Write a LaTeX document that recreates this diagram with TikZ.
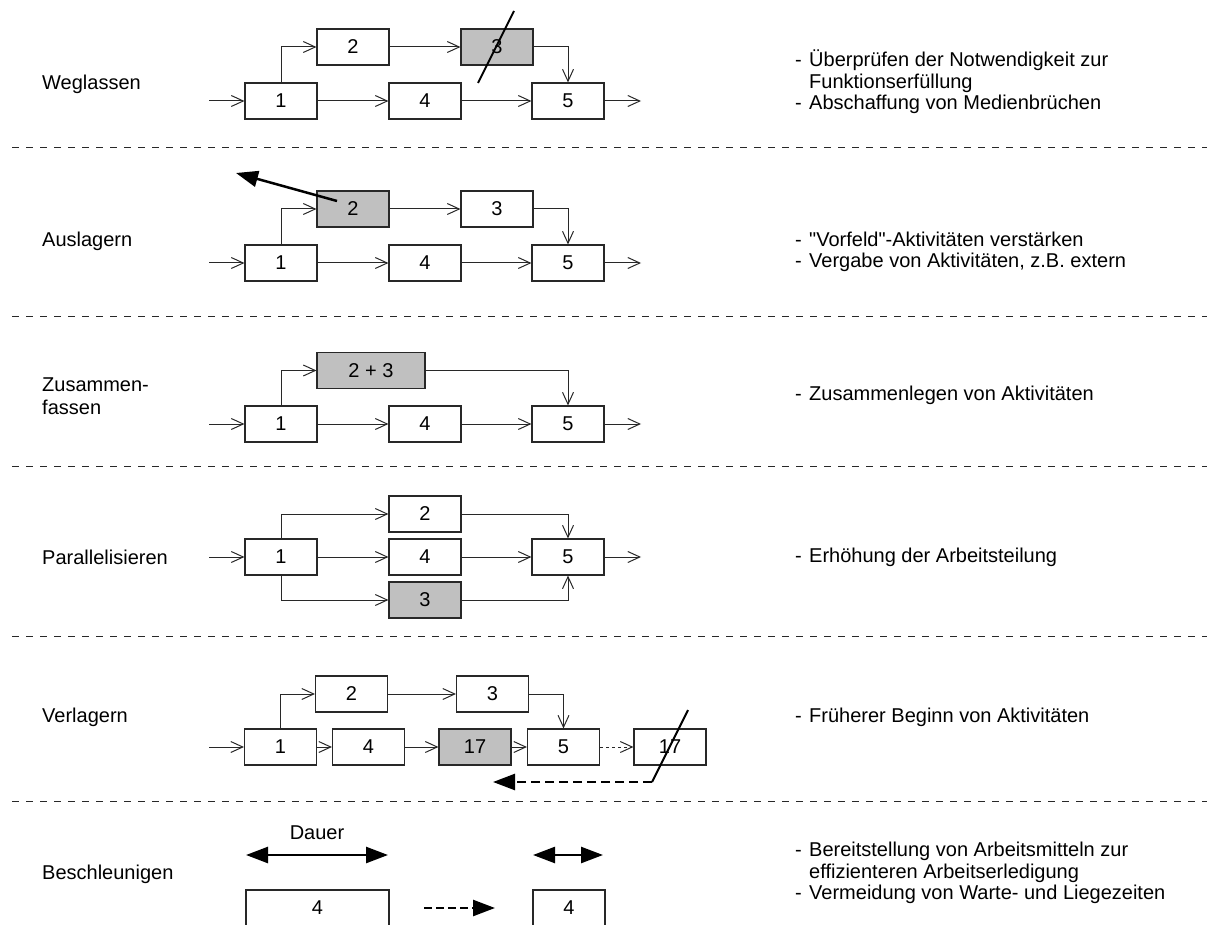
\documentclass[tikz,border=0pt]{standalone}
\usepackage{fontspec}
\setmainfont{Liberation Sans}[Ligatures=TeXOff]
\usetikzlibrary{arrows.meta}
\definecolor{boxgray}{RGB}{192,192,192}
\definecolor{ink}{RGB}{40,40,40}
\newcommand{\dsh}{\makebox[14pt][l]{-}}
\newcommand{\ind}{\hspace*{14pt}}
\begin{document}
\begin{tikzpicture}[x=1pt,y=-1pt,
  every node/.style={font=\fontsize{20}{22}\selectfont, text=black},
  proc/.style={draw=ink, line width=1.1pt, minimum width=72pt, minimum height=36pt, inner sep=0pt, fill=white},
  hl/.style={proc, fill=boxgray},
  flow/.style={draw=ink, line width=1pt, -{Straight Barb[length=12pt,width=11pt,line width=1pt]}},
  dflow/.style={flow, dash pattern=on 3pt off 3pt},
  bigarrow/.style={draw=black, line width=2.5pt, -{Triangle[length=22pt,width=16pt]}},
  bigdash/.style={bigarrow, dash pattern=on 9pt off 5pt},
  bigboth/.style={draw=black, line width=2.5pt, {Triangle[length=22pt,width=16pt]}-{Triangle[length=22pt,width=16pt]}},
  strike/.style={draw=black, line width=2pt},
  divider/.style={draw=ink, line width=1pt, dash pattern=on 7pt off 7pt},
  lbl/.style={anchor=west, align=left, inner sep=0pt},
  note/.style={anchor=west, align=left, inner sep=0pt, font=\fontsize{20}{21.5}\selectfont},
]
\useasboundingbox (0,0) rectangle (1207,925);
\fill[white] (0,0) rectangle (1207,925);

% dividers
\foreach \yy in {148,316,466,636,801} {\draw[divider] (12,\yy) -- (1207,\yy);}

% ---------- Row 1: Weglassen
\node[lbl] (l1) at (42,84) {Weglassen};
\node[proc] (a1) at (281,101) {1};
\node[proc] (a2) at (353,47) {2};
\node[hl]   (a3) at (497,47) {3};
\node[proc] (a4) at (425,101) {4};
\node[proc] (a5) at (568,101) {5};
\coordinate (a0) at (209,101);
\coordinate (a6) at (641,101);
\draw[flow] (a0) -- (a1);
\draw[flow] (a1.north) |- (a2.west);
\draw[flow] (a1) -- (a4);
\draw[flow] (a4) -- (a5);
\draw[flow] (a2) -- (a3);
\draw[flow] (a3.east) -| (a5.north);
\draw[flow] (a5) -- (a6);
\coordinate (s1a) at (478,83);
\coordinate (s1b) at (514,11);
\draw[strike] (s1a) -- (s1b);
\node[note] (n1) at (795,82) {\dsh Überprüfen der Notwendigkeit zur\\\ind Funktionserfüllung\\\dsh Abschaffung von Medienbrüchen};

% ---------- Row 2: Auslagern
\node[lbl] (l2) at (42,241) {Auslagern};
\node[proc] (b1) at (281,263) {1};
\node[hl]   (b2) at (353,209) {2};
\node[proc] (b3) at (497,209) {3};
\node[proc] (b4) at (425,263) {4};
\node[proc] (b5) at (568,263) {5};
\coordinate (b0) at (209,263);
\coordinate (b6) at (641,263);
\draw[flow] (b0) -- (b1);
\draw[flow] (b1.north) |- (b2.west);
\draw[flow] (b1) -- (b4);
\draw[flow] (b4) -- (b5);
\draw[flow] (b2) -- (b3);
\draw[flow] (b3.east) -| (b5.north);
\draw[flow] (b5) -- (b6);
\coordinate (bo1) at (337,201);
\coordinate (bo2) at (236,173);
\draw[bigarrow] (bo1) -- (bo2);
\node[note] (n2) at (795,252) {\dsh "Vorfeld"-Aktivitäten verstärken\\\dsh Vergabe von Aktivitäten, z.B. extern};

% ---------- Row 3: Zusammenfassen
\node[lbl, font=\fontsize{20}{23}\selectfont] (l3) at (42,396) {Zusammen-\\fassen};
\node[proc] (c1) at (281,424) {1};
\node[hl, minimum width=108pt] (c2) at (371,370.5) {2 + 3};
\node[proc] (c4) at (425,424) {4};
\node[proc] (c5) at (568,424) {5};
\coordinate (c0) at (209,424);
\coordinate (c6) at (641,424);
\draw[flow] (c0) -- (c1);
\draw[flow] (c1.north) |- (c2.west);
\draw[flow] (c1) -- (c4);
\draw[flow] (c4) -- (c5);
\draw[flow] (c2.east) -| (c5.north);
\draw[flow] (c5) -- (c6);
\node[note] (n3) at (795,395) {\dsh Zusammenlegen von Aktivitäten};

% ---------- Row 4: Parallelisieren
\node[lbl] (l4) at (42,557) {Parallelisieren};
\node[proc] (d1) at (281,557) {1};
\node[proc] (d2) at (425,514) {2};
\node[proc] (d4) at (425,557) {4};
\node[hl]   (d3) at (425,600) {3};
\node[proc] (d5) at (568,557) {5};
\coordinate (d0) at (209,557);
\coordinate (d6) at (641,557);
\draw[flow] (d0) -- (d1);
\draw[flow] (d1.north) |- (d2.west);
\draw[flow] (d1.south) |- (d3.west);
\draw[flow] (d1) -- (d4);
\draw[flow] (d4) -- (d5);
\draw[flow] (d2.east) -| (d5.north);
\draw[flow] (d3.east) -| (d5.south);
\draw[flow] (d5) -- (d6);
\node[note] (n4) at (795,557) {\dsh Erhöhung der Arbeitsteilung};

% ---------- Row 5: Verlagern
\node[lbl] (l5) at (42,717) {Verlagern};
\node[proc] (e1) at (280.5,747) {1};
\node[proc] (e2) at (351.5,694) {2};
\node[proc] (e3) at (492.5,694) {3};
\node[proc] (e4) at (368.5,747) {4};
\node[hl]   (e17) at (475,747) {17};
\node[proc] (e5) at (563.5,747) {5};
\node[proc] (e17b) at (670,747) {17};
\coordinate (e0) at (209,747);
\draw[flow] (e0) -- (e1);
\draw[flow] (e1) -- (e4);
\draw[flow] (e4) -- (e17);
\draw[flow] (e17) -- (e5);
\draw[dflow] (e5) -- (e17b);
\draw[flow] (e1.north) |- (e2.west);
\draw[flow] (e2) -- (e3);
\draw[flow] (e3.east) -| (e5.north);
\coordinate (s5a) at (652,782);
\coordinate (s5b) at (688,710);
\coordinate (s5c) at (493,782);
\draw[strike] (s5a) -- (s5b);
\draw[bigdash] (s5a) -- (s5c);
\node[note] (n5) at (795,717) {\dsh Früherer Beginn von Aktivitäten};

% ---------- Row 6: Beschleunigen
\node[lbl] (l6) at (42,874) {Beschleunigen};
\node[inner sep=0pt] (dauer) at (317,833) {Dauer};
\coordinate (f1a) at (246,855);
\coordinate (f1b) at (388,855);
\coordinate (f2a) at (533,855);
\coordinate (f2b) at (603,855);
\draw[bigboth] (f1a) -- (f1b);
\draw[bigboth] (f2a) -- (f2b);
\node[proc, minimum width=143pt] (g1) at (317.5,908) {4};
\node[proc] (g2) at (569,908) {4};
\coordinate (g0a) at (424,908);
\coordinate (g0b) at (495,908);
\draw[bigdash, dash pattern=on 8pt off 4pt] (g0a) -- (g0b);
\node[note] (n6) at (795,873) {\dsh Bereitstellung von Arbeitsmitteln zur\\\ind effizienteren Arbeitserledigung\\\dsh Vermeidung von Warte- und Liegezeiten};
\end{tikzpicture}
\end{document}
